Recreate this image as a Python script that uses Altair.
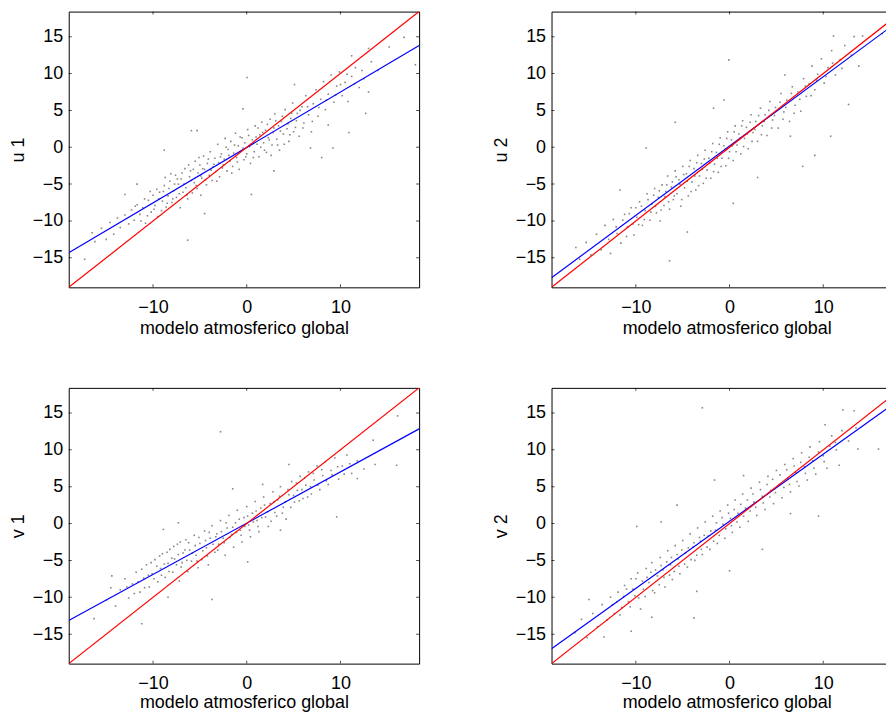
import altair as alt
import pandas as pd

FONT = "Liberation Sans"
AX_MIN, AX_MAX = -19.0, 18.4
X_TICKS = [-10, 0, 10]
Y_TICKS = [-15, -10, -5, 0, 5, 10, 15]
XLABEL = "modelo atmosferico global"
PANEL_LABELS = ["u 1", "u 2", "v 1", "v 2"]

# regression (blue) line end values at x = AX_MIN and x = AX_MAX
blue_u1 = [-14.3, 13.8]
blue_u2 = [-17.7, 17.45]
blue_v1 = [-13.15, 12.84]
blue_v2 = [-16.98, 17.05]

u1_pts = [
    (0.03, 9.46), (18.0, 11.2), (16.8, 14.9), (15.2, 13.6), (13.0, 13.4), (11.2, 12.4), (12.7, 4.6),
    (10.9, 2.0), (13.0, 7.5), (9.2, -0.1), (8.0, -1.4), (6.8, -0.1), (8.7, 3.0), (0.5, -6.4),
    (-4.5, -9.0), (-6.3, -12.6), (-17.3, -15.2), (-16.5, -11.6), (-5.9, 2.25), (-5.3, 2.25),
    (-8.8, -0.4), (-11.7, -5.0), (-13.0, -6.4), (2.9, -3.2), (5.1, 8.5), (-0.4, 5.2),
    (-16.2, -12.8), (-15.5, -11.0), (-15.0, -12.5), (-14.6, -10.2), (-14.2, -11.8), (-13.8, -9.6),
    (-13.5, -10.9), (-13.0, -9.2), (-12.6, -10.4), (-12.3, -8.5), (-12.0, -9.9), (-11.7, -7.8),
    (-11.4, -9.1), (-11.1, -8.2), (-10.8, -10.3), (-10.5, -7.2), (-10.2, -8.8), (-10.0, -6.5),
    (-9.8, -7.9), (-9.5, -9.4), (-9.3, -6.1), (-9.0, -7.3), (-8.8, -5.2), (-8.6, -8.1), (-8.4, -6.6),
    (-8.2, -4.6), (-8.0, -7.5), (-7.8, -5.9), (-7.6, -3.8), (-7.5, -6.8), (-7.3, -5.0), (-7.1, -8.2),
    (-7.0, -4.3), (-6.8, -6.1), (-6.6, -2.9), (-6.5, -5.5), (-6.3, -7.0), (-6.1, -4.0), (-6.0, -3.2),
    (-5.8, -6.2), (-5.6, -4.8), (-5.5, -1.9), (-5.3, -5.6), (-5.2, -3.5), (-5.0, -2.4), (-4.9, -6.5),
    (-4.8, -4.2), (-4.6, -1.2), (-4.5, -3.0), (-4.3, -5.1), (-4.2, -2.2), (-4.0, -3.8), (-3.9, -0.6),
    (-3.7, -4.5), (-3.6, -2.7), (-3.4, -1.5), (-3.3, -3.3), (-3.1, 0.4), (-3.0, -2.1), (-2.9, -4.0),
    (-2.7, -0.9), (-2.6, -2.8), (-2.4, -1.6), (-2.3, 1.2), (-2.1, -3.2), (-2.0, -0.3), (-1.8, -1.9),
    (-1.7, 0.8), (-1.5, -2.6), (-1.4, -0.8), (-1.2, 1.9), (-1.1, -1.4), (-0.9, 0.2), (-0.8, -3.0),
    (-0.6, -0.5), (-0.5, 1.3), (-0.3, -1.7), (-0.2, 0.6), (0.0, -0.9), (0.1, 2.4), (0.3, 0.1),
    (0.4, -2.2), (0.6, 1.0), (0.8, -0.6), (0.9, 2.9), (1.1, 0.4), (1.3, -1.3), (1.4, 1.7), (1.6, 3.4),
    (1.8, 0.6), (2.0, 2.3), (2.1, -0.7), (2.3, 1.3), (2.5, 3.8), (2.7, 0.3), (2.8, 2.0), (3.0, 4.5),
    (3.2, 1.1), (3.4, 2.9), (3.5, -0.4), (3.7, 3.5), (3.9, 1.8), (4.1, 5.1), (4.3, 2.5), (4.5, 0.8),
    (4.7, 3.9), (4.9, 6.0), (5.2, 2.7), (5.4, 4.6), (5.6, 1.5), (5.9, 5.5), (6.1, 3.3), (6.3, 7.0),
    (6.6, 4.4), (6.9, 2.1), (7.1, 5.9), (7.4, 7.8), (7.6, 4.2), (7.9, 6.5), (8.2, 8.9), (8.4, 5.1),
    (8.7, 7.2), (9.0, 9.8), (9.3, 6.1), (9.6, 8.3), (9.9, 10.2), (10.2, 7.0), (10.5, 8.8), (10.8, 6.2),
    (11.2, 9.6), (11.6, 10.8), (12.0, 8.1), (12.5, 9.3), (13.3, 11.6), (14.0, 10.4),
]
u1_core = [
    (-11.9, -8.0), (-11.3, -10.0), (-10.9, -7.0), (-10.6, -9.3), (-10.3, -6.0), (-9.9, -8.4),
    (-9.6, -5.7), (-9.4, -7.0), (-9.1, -8.6), (-8.9, -6.0), (-8.7, -4.1), (-8.5, -7.6), (-8.3, -5.6),
    (-8.1, -3.6), (-7.9, -7.0), (-7.7, -5.0), (-7.4, -4.3), (-7.2, -6.3), (-6.9, -3.5), (-6.7, -5.0),
    (-6.4, -6.5), (-6.2, -2.4), (-5.9, -4.5), (-5.7, -3.0), (-5.4, -5.2), (-5.1, -1.4), (-4.9, -3.9),
    (-4.7, -2.9), (-4.4, -4.4), (-4.1, -1.6), (-3.8, -3.1), (-3.5, -2.3), (-3.2, -4.6), (-2.8, -1.3),
    (-2.5, -2.4), (-2.2, 0.0), (-1.9, -1.1), (-1.6, -3.5), (-1.3, 0.3), (-1.0, -2.0), (-0.7, 1.4),
    (-0.4, -0.1), (-0.1, -1.3), (0.2, 1.6), (0.5, 0.4), (0.7, -1.4), (1.0, 1.4), (1.2, 2.6),
    (1.5, 0.0), (1.7, 2.0), (1.9, -0.4), (2.2, 3.1), (2.4, 1.0), (2.6, -1.1), (2.9, 2.6), (3.1, 3.6),
    (3.3, 0.3), (3.6, 2.2), (3.8, 4.2), (4.0, 0.4), (4.4, 3.2), (4.6, 1.7), (4.8, 4.6), (5.0, 2.1),
    (5.3, 3.6), (5.7, 5.0), (6.0, 2.6), (6.5, 5.5), (7.0, 3.5), (7.7, 5.4), (8.5, 6.4), (9.5, 7.1),
    (10.0, 8.5), (10.7, 9.9), (11.5, 8.6), (12.3, 10.4),
]

u2_pts = [
    (-0.07, 11.85), (11.1, 15.1), (13.3, 15.0), (14.2, 15.1), (12.7, 5.8), (10.8, 1.5), (9.1, -1.1),
    (7.8, -2.6), (6.5, 1.5), (0.4, -7.6), (-4.5, -11.5), (-6.4, -15.4), (-5.8, 3.4), (-8.9, -0.1),
    (-11.7, -5.8), (-12.7, -14.4), (-16.4, -13.6), (3.0, -4.1), (-0.6, 6.4), (-1.7, 5.3), (5.9, 9.8),
    (16.3, 15.4),
    (-16.0, -15.2), (-15.3, -12.9), (-14.8, -14.6), (-14.2, -11.8), (-13.7, -13.9), (-13.3, -10.6),
    (-12.9, -12.5), (-12.4, -9.8), (-12.0, -11.7), (-11.6, -13.0), (-11.2, -9.1), (-10.9, -10.8),
    (-10.5, -8.2), (-10.2, -11.9), (-9.9, -9.5), (-9.6, -7.4), (-9.3, -10.6), (-9.0, -8.6), (-8.8, -6.3),
    (-8.5, -9.9), (-8.3, -7.7), (-8.0, -5.6), (-7.8, -8.9), (-7.6, -6.8), (-7.4, -10.0), (-7.2, -5.1),
    (-7.0, -7.9), (-6.8, -6.0), (-6.6, -3.9), (-6.4, -8.4), (-6.2, -5.4), (-6.0, -7.1), (-5.8, -3.2),
    (-5.6, -6.3), (-5.4, -4.4), (-5.2, -8.0), (-5.0, -2.6), (-4.8, -5.5), (-4.6, -3.6), (-4.4, -6.6),
    (-4.2, -1.8), (-4.0, -4.7), (-3.8, -2.9), (-3.6, -5.8), (-3.4, -1.1), (-3.2, -3.9), (-3.0, -2.2),
    (-2.8, -4.9), (-2.6, -0.4), (-2.4, -3.1), (-2.2, -1.5), (-2.0, -4.2), (-1.8, 0.5), (-1.6, -2.3),
    (-1.4, -0.7), (-1.2, -3.4), (-1.0, 1.3), (-0.8, -1.5), (-0.6, 0.2), (-0.4, -2.5), (-0.2, 2.1),
    (0.0, -0.6), (0.2, 1.0), (0.4, -1.8), (0.6, 2.9), (0.8, 0.3), (1.0, 1.8), (1.2, -0.9), (1.4, 3.6),
    (1.6, 1.2), (1.8, 2.7), (2.0, -0.2), (2.3, 4.4), (2.5, 2.0), (2.8, 3.5), (3.0, 0.8), (3.3, 5.3),
    (3.5, 2.9), (3.8, 4.4), (4.0, 1.6), (4.3, 6.2), (4.6, 3.7), (4.9, 5.4), (5.2, 2.6), (5.5, 7.3),
    (5.8, 4.8), (6.1, 6.4), (6.4, 3.5), (6.7, 8.2), (7.0, 5.7), (7.3, 7.5), (7.6, 4.9), (7.9, 9.3),
    (8.2, 6.9), (8.5, 8.6), (8.8, 11.0), (9.1, 7.8), (9.4, 9.9), (9.8, 12.0), (10.1, 8.7), (10.5, 10.8),
    (10.9, 13.1), (11.3, 9.8), (11.8, 11.9), (12.3, 13.8), (13.0, 12.5), (13.8, 11.0),
]
u2_core = [
    (-12.1, -10.8), (-11.4, -9.9), (-11.0, -12.1), (-10.7, -9.0), (-10.3, -10.4), (-10.0, -8.2),
    (-9.7, -10.5), (-9.4, -8.0), (-9.1, -9.8), (-8.7, -7.1), (-8.4, -8.8), (-8.1, -6.5), (-7.9, -8.0),
    (-7.5, -5.9), (-7.3, -8.5), (-6.9, -6.7), (-6.7, -5.1), (-6.5, -7.4), (-6.1, -4.7), (-5.9, -6.6),
    (-5.7, -4.0), (-5.3, -5.0), (-5.1, -7.1), (-4.9, -3.7), (-4.5, -4.6), (-4.3, -2.6), (-4.1, -6.0),
    (-3.7, -3.9), (-3.5, -2.1), (-3.3, -5.2), (-2.9, -3.0), (-2.7, -1.6), (-2.5, -4.2), (-2.1, -2.1),
    (-1.9, -0.6), (-1.7, -3.3), (-1.3, -1.5), (-1.1, 0.4), (-0.9, -2.6), (-0.5, -0.3), (-0.3, 1.2),
    (-0.1, -1.5), (0.3, 0.2), (0.5, 2.1), (0.7, -0.6), (1.1, 1.2), (1.3, 2.9), (1.5, 0.1), (1.9, 1.8),
    (2.2, 3.4), (2.4, 0.8), (2.7, 2.4), (3.1, 4.3), (3.4, 1.7), (3.7, 3.5), (4.2, 5.0), (4.5, 2.6),
    (4.8, 4.3), (5.4, 6.1), (5.7, 3.8), (6.0, 5.4), (6.6, 7.3), (6.9, 4.6), (7.5, 6.5), (8.1, 8.3),
    (8.7, 7.0), (9.3, 9.1), (10.3, 9.6), (11.0, 11.4), (12.0, 10.7),
]

v1_pts = [
    (-2.8, 12.45), (16.1, 14.6), (13.5, 11.3), (16.0, 7.9), (13.7, 8.0), (11.8, 6.1), (9.6, 0.9),
    (3.6, -0.9), (0.1, -5.2), (-3.7, -10.3), (-8.4, -10.0), (-11.2, -13.6), (-16.3, -12.9),
    (-14.4, -7.1), (-8.9, -0.8), (-7.3, 0.1), (-1.5, 4.7), (4.5, 8.0), (1.7, 5.3),
    (-15.0, -10.4), (-14.5, -8.7), (-14.0, -11.2), (-13.5, -9.0), (-13.0, -7.5), (-12.6, -10.1),
    (-12.2, -8.2), (-11.8, -6.6), (-11.4, -9.3), (-11.0, -7.4), (-10.7, -5.6), (-10.4, -8.6),
    (-10.1, -6.8), (-9.8, -4.9), (-9.5, -7.9), (-9.2, -6.1), (-9.0, -4.1), (-8.7, -7.3), (-8.4, -5.4),
    (-8.2, -3.5), (-7.9, -6.6), (-7.7, -4.8), (-7.4, -2.8), (-7.2, -7.8), (-7.0, -5.9), (-6.8, -4.0),
    (-6.5, -2.2), (-6.3, -6.5), (-6.1, -3.6), (-5.9, -5.1), (-5.6, -1.6), (-5.4, -4.3), (-5.2, -6.0),
    (-5.0, -2.7), (-4.8, -4.9), (-4.5, -1.0), (-4.3, -3.3), (-4.1, -5.6), (-3.9, -2.0), (-3.7, -0.3),
    (-3.4, -3.9), (-3.2, -1.4), (-3.0, -2.8), (-2.8, 0.4), (-2.5, -2.0), (-2.3, -4.3), (-2.1, -0.6),
    (-1.9, 1.1), (-1.6, -1.5), (-1.4, -3.2), (-1.2, 0.1), (-1.0, 1.8), (-0.7, -0.9), (-0.5, -2.5),
    (-0.3, 0.8), (0.0, 2.3), (0.2, -0.2), (0.4, -1.8), (0.6, 1.4), (0.9, 3.0), (1.1, 0.4), (1.3, -1.1),
    (1.5, 2.1), (1.8, 3.6), (2.0, 0.9), (2.3, -0.4), (2.5, 2.7), (2.8, 4.3), (3.0, 1.5), (3.3, 3.2),
    (3.6, 5.0), (3.9, 2.2), (4.2, 0.6), (4.5, 3.9), (4.8, 5.7), (5.1, 2.9), (5.4, 4.5), (5.7, 6.4),
    (6.0, 3.4), (6.3, 5.2), (6.6, 7.0), (6.9, 4.0), (7.2, 5.9), (7.5, 7.8), (7.8, 4.6), (8.1, 6.5),
    (8.4, 8.4), (8.7, 5.3), (9.0, 7.2), (9.4, 8.9), (9.8, 6.0), (10.2, 7.8), (10.7, 9.3), (11.2, 6.8),
    (11.8, 8.5), (12.5, 7.4),
]
v1_core = [
    (-12.8, -8.6), (-12.0, -9.5), (-11.6, -7.9), (-11.2, -6.2), (-10.9, -8.7), (-10.5, -7.0),
    (-10.2, -5.3), (-9.9, -7.5), (-9.6, -5.8), (-9.3, -4.4), (-9.1, -7.0), (-8.8, -5.5), (-8.5, -3.9),
    (-8.3, -6.5), (-8.0, -4.7), (-7.8, -3.1), (-7.5, -5.6), (-7.3, -4.2), (-7.1, -2.5), (-6.9, -5.3),
    (-6.6, -3.6), (-6.4, -5.0), (-6.2, -2.6), (-5.8, -4.0), (-5.5, -3.0), (-5.3, -5.1), (-5.1, -1.9),
    (-4.7, -3.7), (-4.4, -2.3), (-4.2, -4.4), (-4.0, -1.2), (-3.6, -2.8), (-3.3, -1.8), (-3.1, -3.6),
    (-2.7, -1.1), (-2.4, -2.6), (-2.2, 0.1), (-1.8, -1.9), (-1.5, -0.5), (-1.1, -1.2), (-0.8, 0.6),
    (-0.6, -1.6), (-0.2, -0.4), (0.1, 1.0), (0.3, -0.9), (0.7, 0.2), (1.0, 1.7), (1.2, -0.4),
    (1.6, 0.8), (1.9, 2.5), (2.2, 1.6), (2.6, 0.3), (2.9, 2.9), (3.2, 1.0), (3.5, 3.7), (3.8, 1.4),
    (4.1, 2.9), (4.4, 4.6), (4.7, 2.2), (5.0, 3.8), (5.3, 5.5), (5.6, 3.1), (5.9, 4.6), (6.2, 6.2),
    (6.5, 3.6), (6.8, 5.0), (7.1, 6.8), (7.6, 5.2), (8.0, 7.3), (8.5, 5.8), (9.1, 6.6), (9.7, 7.7),
    (10.4, 6.7), (11.0, 8.1),
]

v2_pts = [
    (-2.9, 15.7), (12.1, 15.4), (13.3, 15.3), (15.9, 10.1), (13.7, 10.1), (11.7, 7.9), (9.5, 1.0),
    (6.5, 1.35), (3.5, -3.5), (0.0, -6.4), (-3.5, -9.2), (-3.8, -12.8), (-8.3, -12.7), (-10.5, -14.6),
    (-13.4, -15.4), (-15.0, -10.3), (-9.9, -0.4), (-7.3, 0.2), (-5.6, 2.5), (-1.6, 5.9), (1.5, 6.5),
    (10.2, 13.4),
    (-16.5, -14.8), (-15.8, -13.0), (-15.2, -15.5), (-14.6, -12.2), (-14.1, -14.0), (-13.6, -11.0),
    (-13.1, -13.1), (-12.7, -10.0), (-12.3, -12.2), (-11.9, -9.3), (-11.5, -11.4), (-11.2, -8.4),
    (-10.8, -10.6), (-10.5, -7.5), (-10.1, -9.8), (-9.8, -6.7), (-9.5, -11.6), (-9.2, -8.9),
    (-8.9, -6.1), (-8.6, -8.0), (-8.3, -5.3), (-8.0, -9.4), (-7.7, -7.1), (-7.4, -4.6), (-7.1, -6.3),
    (-6.9, -8.6), (-6.6, -3.7), (-6.3, -5.6), (-6.1, -7.6), (-5.8, -3.0), (-5.5, -4.8), (-5.3, -6.8),
    (-5.0, -2.3), (-4.7, -4.0), (-4.5, -5.9), (-4.2, -1.4), (-3.9, -3.2), (-3.7, -5.0), (-3.4, -0.6),
    (-3.1, -2.4), (-2.9, -4.2), (-2.6, 0.2), (-2.3, -1.7), (-2.1, -3.5), (-1.8, 1.0), (-1.5, -0.9),
    (-1.3, -2.7), (-1.0, 1.7), (-0.7, -0.1), (-0.5, -2.0), (-0.2, 2.5), (0.1, 0.7), (0.3, -1.2),
    (0.6, 3.2), (0.9, 1.4), (1.1, -0.5), (1.4, 4.0), (1.7, 2.1), (2.0, 0.3), (2.3, 4.8), (2.6, 2.9),
    (2.9, 1.1), (3.2, 5.6), (3.5, 3.7), (3.8, 1.9), (4.1, 6.4), (4.4, 4.5), (4.7, 2.7), (5.0, 7.2),
    (5.3, 5.3), (5.6, 3.5), (5.9, 8.0), (6.2, 6.1), (6.5, 4.3), (6.8, 8.8), (7.1, 6.9), (7.4, 5.1),
    (7.7, 9.6), (8.0, 7.7), (8.3, 5.9), (8.6, 10.4), (8.9, 8.5), (9.2, 6.7), (9.6, 11.1), (10.0, 9.2),
    (10.4, 7.5), (10.9, 11.9), (11.4, 10.0), (12.0, 12.6), (12.7, 11.2), (13.5, 13.0),
]
v2_core = [
    (-12.5, -11.0), (-12.0, -10.6), (-11.7, -12.4), (-11.3, -9.9), (-11.0, -8.9), (-10.6, -11.3),
    (-10.3, -8.9), (-10.0, -7.5), (-9.7, -10.1), (-9.3, -7.8), (-9.0, -9.9), (-8.8, -7.3), (-8.4, -6.6),
    (-8.2, -9.1), (-7.9, -6.3), (-7.5, -8.3), (-7.3, -5.7), (-7.0, -7.3), (-6.7, -5.2), (-6.4, -7.0),
    (-6.2, -4.6), (-5.9, -6.5), (-5.6, -4.2), (-5.4, -5.8), (-5.1, -3.6), (-4.8, -5.5), (-4.4, -3.3),
    (-4.1, -4.9), (-3.8, -2.6), (-3.5, -4.3), (-3.2, -1.9), (-3.0, -3.5), (-2.7, -1.6), (-2.4, -3.2),
    (-2.0, -1.0), (-1.7, -2.4), (-1.4, 0.1), (-1.1, -1.6), (-0.8, 0.8), (-0.4, -0.7), (-0.1, 1.4),
    (0.2, -0.3), (0.5, 1.9), (0.8, 0.2), (1.2, 2.6), (1.5, 1.0), (1.9, 3.2), (2.2, 1.7), (2.5, 4.0),
    (2.8, 2.2), (3.3, 4.6), (3.6, 2.8), (4.0, 5.3), (4.3, 3.6), (4.6, 6.0), (4.9, 4.2), (5.4, 6.6),
    (5.8, 4.9), (6.1, 7.3), (6.4, 5.3), (6.9, 7.8), (7.2, 5.7), (7.6, 8.3), (8.1, 6.8), (8.5, 9.0),
    (9.0, 7.5), (9.5, 9.7), (10.1, 8.4), (10.7, 10.5), (11.3, 11.0),
]

PANEL_W, PANEL_H = 352, 277


def panel(pts, blue, ylabel, title_pad):
    xs = alt.Scale(domain=[AX_MIN, AX_MAX], nice=False, zero=False)
    ys = alt.Scale(domain=[AX_MIN, AX_MAX], nice=False, zero=False)
    common = dict(ticks=False, domain=False, grid=False, labelFont=FONT, titleFont=FONT,
                  labelFontSize=18, titleFontSize=18, labelColor="black", titleColor="black",
                  titleFontWeight="normal")
    xaxis = alt.Axis(values=X_TICKS, title=XLABEL, labelPadding=11, titlePadding=title_pad, **common)
    yaxis = alt.Axis(values=Y_TICKS, title=ylabel, labelPadding=6, titlePadding=5, **common)
    X = alt.X("x:Q", scale=xs, axis=xaxis)
    Y = alt.Y("y:Q", scale=ys, axis=yaxis)

    df = pd.DataFrame(pts, columns=["x", "y"])
    dots = alt.Chart(df).mark_square(size=2.5, color="#666666", opacity=0.8).encode(x=X, y=Y)

    red_df = pd.DataFrame({"x": [AX_MIN, AX_MAX], "y": [AX_MIN, AX_MAX]})
    red = alt.Chart(red_df).mark_line(color="#ff0000", strokeWidth=1.2, clip=True).encode(x=X, y=Y)

    blue_df = pd.DataFrame({"x": [AX_MIN, AX_MAX], "y": blue})
    bl = alt.Chart(blue_df).mark_line(color="#0000ff", strokeWidth=1.2, clip=True).encode(x=X, y=Y)

    xt_df = pd.DataFrame({"x": X_TICKS * 2, "y": [AX_MIN] * len(X_TICKS) + [AX_MAX] * len(X_TICKS)})
    xt = alt.Chart(xt_df).mark_tick(orient="vertical", size=6, thickness=1, color="black",
                                    clip=True).encode(x=X, y=Y)
    yt_df = pd.DataFrame({"x": [AX_MIN] * len(Y_TICKS) + [AX_MAX] * len(Y_TICKS), "y": Y_TICKS * 2})
    yt = alt.Chart(yt_df).mark_tick(orient="horizontal", size=6, thickness=1, color="black",
                                    clip=True).encode(x=X, y=Y)

    return alt.layer(dots, bl, red, xt, yt).properties(width=PANEL_W, height=PANEL_H)


top = alt.hconcat(panel(u1_pts + u1_core, blue_u1, PANEL_LABELS[0], 3),
                  panel(u2_pts + u2_core, blue_u2, PANEL_LABELS[1], 3), spacing=71)
bottom = alt.hconcat(panel(v1_pts + v1_core, blue_v1, PANEL_LABELS[2], 1),
                     panel(v2_pts + v2_core, blue_v2, PANEL_LABELS[3], 1), spacing=71)

chart = alt.vconcat(top, bottom, spacing=49).properties(
    padding={"left": 0, "top": 1, "right": -17, "bottom": -1},
    background="white",
).configure_view(stroke="black", strokeWidth=1)

chart.save("out.html", embed_options={"renderer": "svg", "actions": False})
